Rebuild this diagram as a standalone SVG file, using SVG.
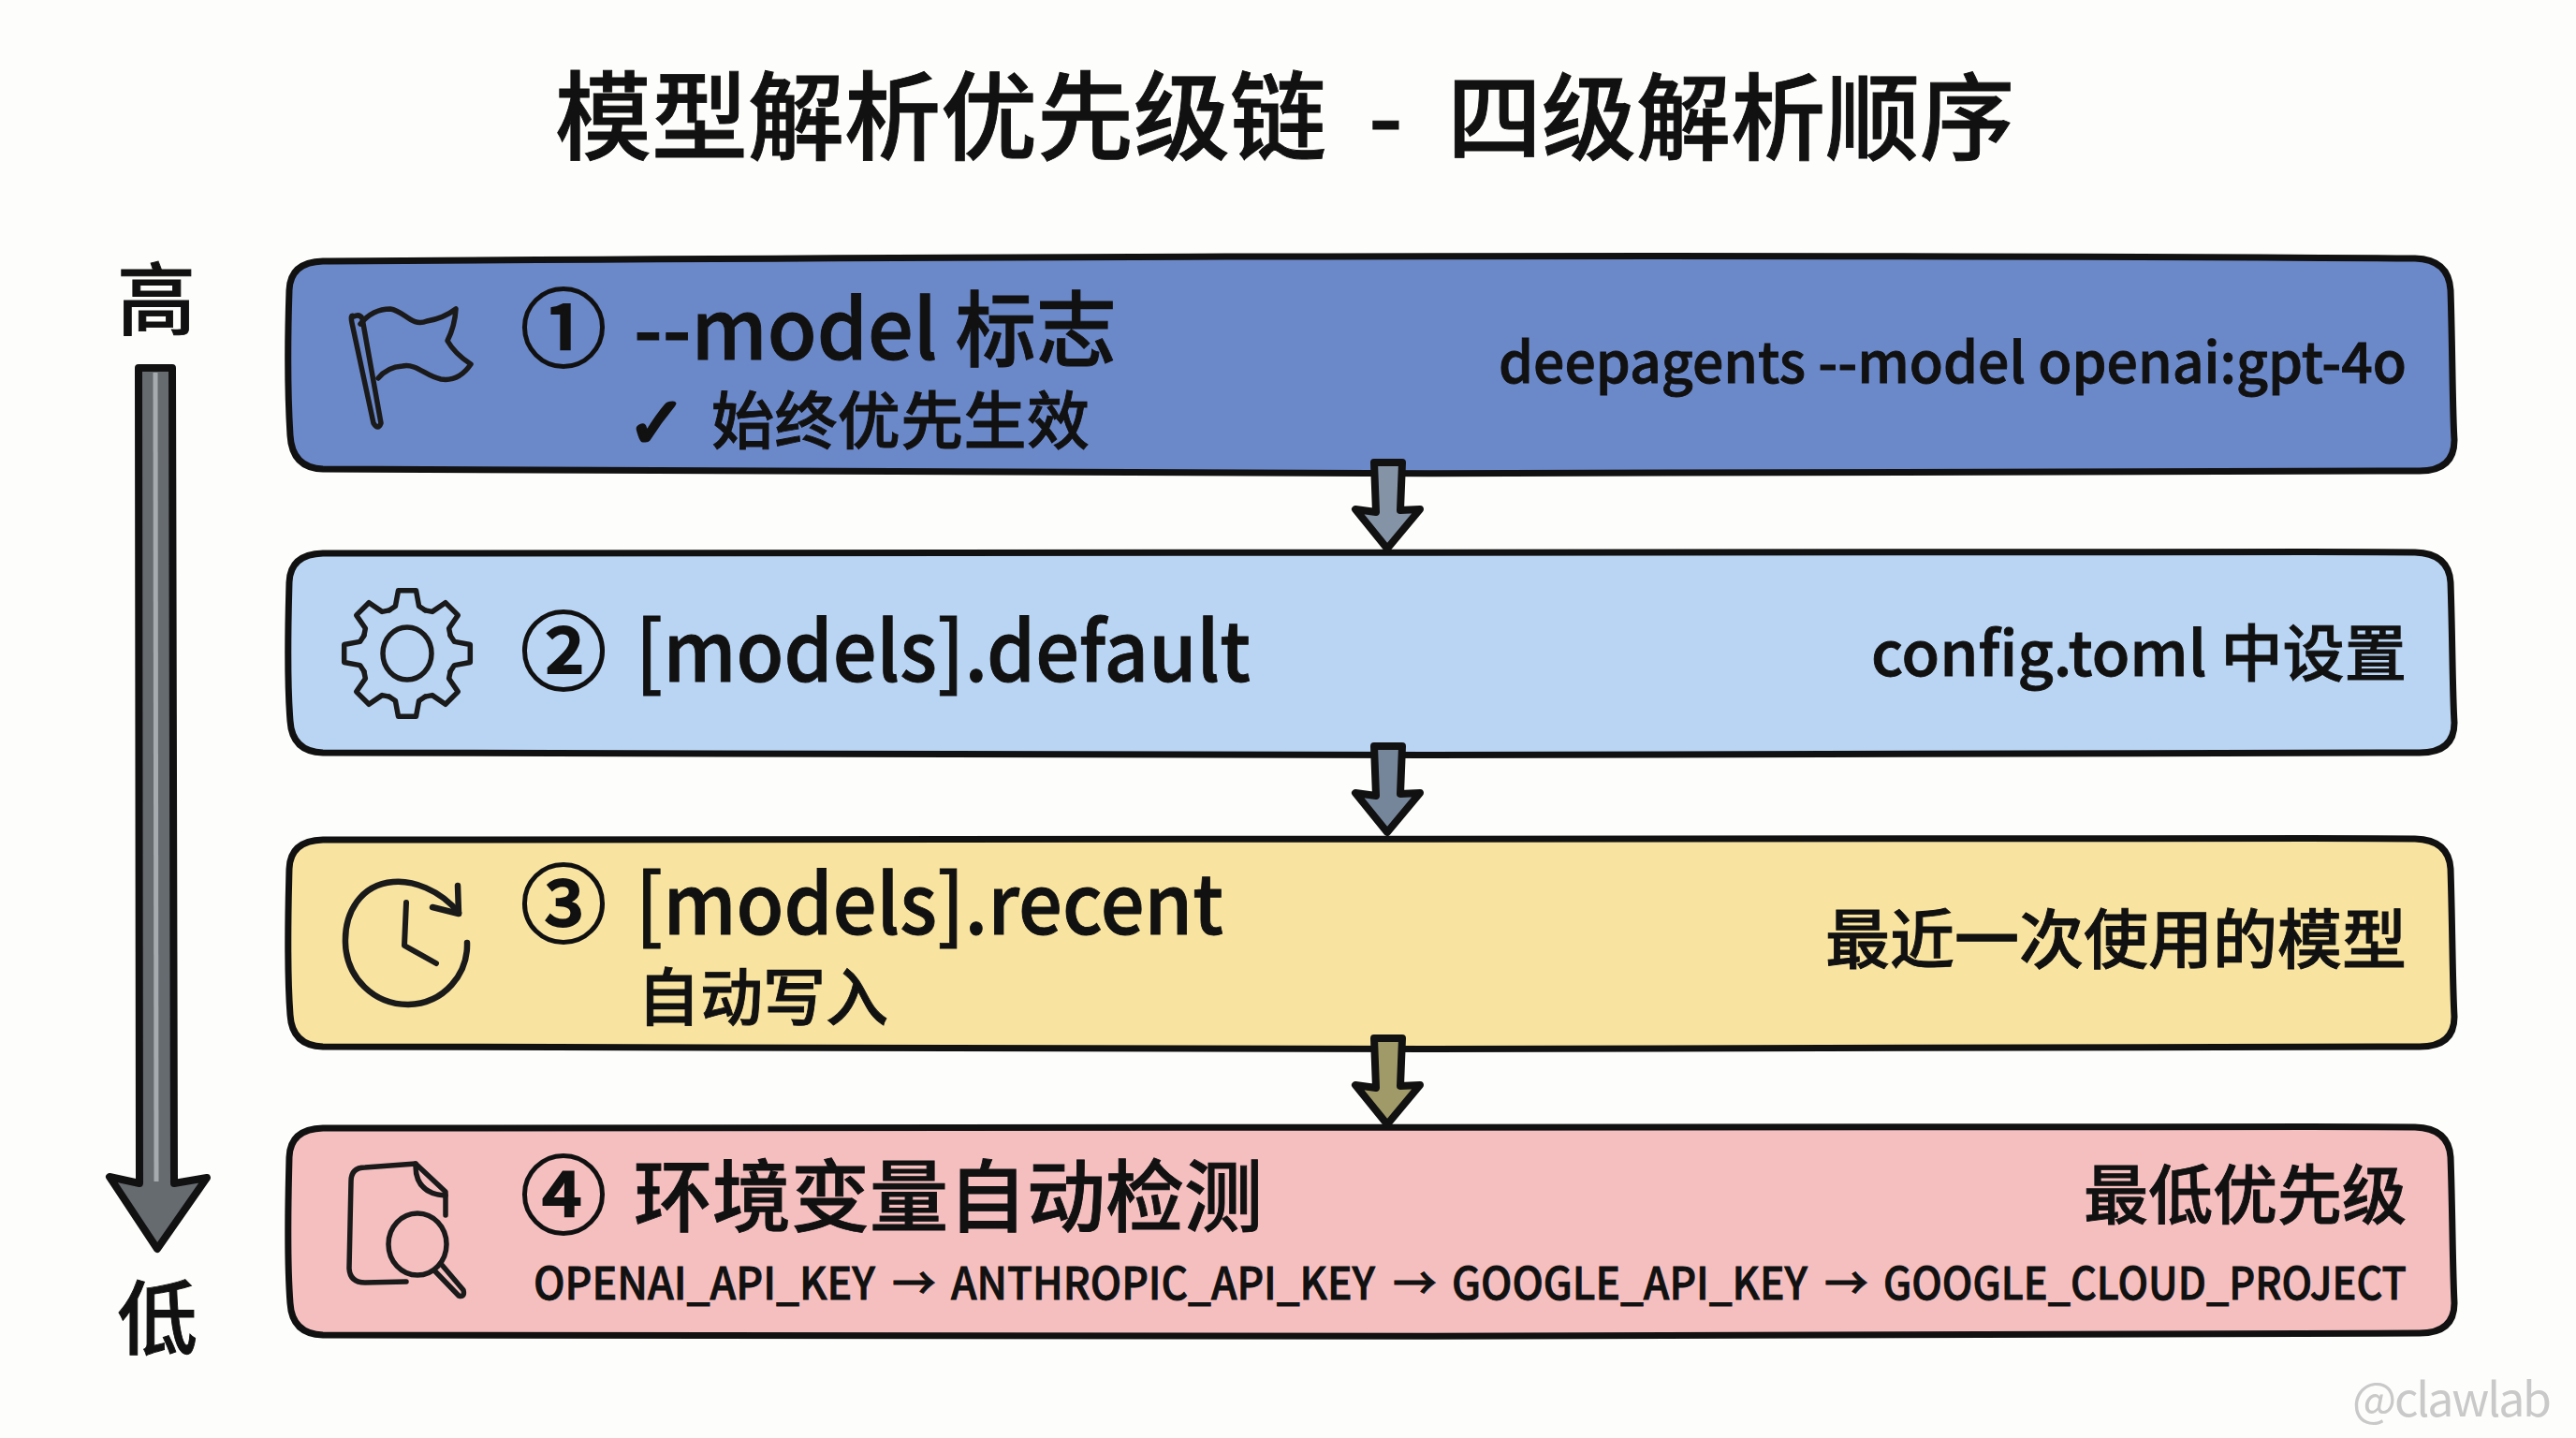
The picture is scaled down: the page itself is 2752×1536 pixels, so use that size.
<svg xmlns="http://www.w3.org/2000/svg" width="2752" height="1536" viewBox="0 0 2752 1536">
<style>
text{font-family:"Noto Sans CJK SC","Noto Sans",sans-serif;font-weight:500;fill:#111;stroke:#111;stroke-width:.9}
.box{stroke:#111;stroke-width:7;stroke-linejoin:round}
.ico{fill:none;stroke:#1a1a1a;stroke-width:5.5;stroke-linecap:round;stroke-linejoin:round}
.arr{stroke:#111;stroke-width:8;stroke-linejoin:round}
.r{text-anchor:end}
.num{stroke-width:2}
</style>
<defs>
<polyline id="tooth" points="-19.1,-46.2 -12.6,-50.5 -9.5,-67.3 9.5,-67.3 12.6,-50.5 19.1,-46.2"/>
</defs>
<rect width="2752" height="1536" fill="#fdfdfb"/>
<text id="title" y="163" font-size="103"><tspan x="593">模型解析优先级链</tspan> <tspan x="1462">-</tspan> <tspan x="1546" font-size="101">四级解析顺序</tspan></text>

<g id="priority-axis">
<text x="167" y="351" font-size="84" text-anchor="middle">高</text>
<path class="arr" d="M148 393 L184 393 L186 1264 L221 1258 L168 1334 L117 1257 L149 1264 Z" fill="#666b70" stroke-width="7"/>
<line x1="166" y1="398" x2="167" y2="1262" stroke="#a5abae" stroke-width="5"/>
<text x="168" y="1440" font-size="86" text-anchor="middle">低</text>
</g>

<g id="node-1">
<path class="box" fill="#6b88c9" d="M345 279 C800 276,1700 270,2580 276 Q2616 277 2618 310 C2620 370,2620 440,2622 470 Q2622 503 2585 503 C1900 506,1000 508,345 501 Q312 500 310 465 C306 400,308 340,309 310 Q310 280 345 279 Z"/>
<g class="ico">
<path d="M378 338 Q374 335 376 345 L399 452 Q404 460 407 452 L387 340 Q384 335 378 338 Z"/>
<path d="M385 346 Q398 330 417 330 C432 332,440 350,456 343 Q474 340 487 330 Q486 348 478 364 Q486 378 503 389 Q490 408 471 405 C455 402,445 388,430 391 Q414 392 404 404"/>
</g>
<text class="num" x="556" y="385" font-size="92">①</text>
<text x="677" y="384" font-size="88" textLength="516" lengthAdjust="spacingAndGlyphs">--model 标志</text>
<text x="670" y="478" font-size="76" style="font-family:'DejaVu Sans',sans-serif;stroke-width:3.5">✓</text>
<text x="760" y="474" font-size="67" textLength="404">始终优先生效</text>
<text class="r" x="2571" y="409" font-size="60" textLength="970" lengthAdjust="spacingAndGlyphs">deepagents --model openai:gpt-4o</text>
</g>

<g id="node-2">
<path class="box" fill="#b9d5f3" d="M345 591 C800 589,1700 586,2580 590 Q2616 591 2618 622 C2620 680,2620 740,2622 772 Q2622 804 2585 804 C1900 807,1000 808,345 804 Q312 803 310 770 C306 720,308 660,309 622 Q310 592 345 591 Z"/>
<g class="ico" transform="translate(435 698)" stroke-width="5">
<use href="#tooth"/><use href="#tooth" transform="rotate(45)"/><use href="#tooth" transform="rotate(90)"/><use href="#tooth" transform="rotate(135)"/><use href="#tooth" transform="rotate(180)"/><use href="#tooth" transform="rotate(225)"/><use href="#tooth" transform="rotate(270)"/><use href="#tooth" transform="rotate(315)"/>
<ellipse cx="0" cy="0" rx="26" ry="28"/>
</g>
<text class="num" x="556" y="730" font-size="92">②</text>
<text x="679" y="728" font-size="88" textLength="657" lengthAdjust="spacingAndGlyphs">[models].default</text>
<text class="r" x="2571" y="722" font-size="66" textLength="572" lengthAdjust="spacingAndGlyphs">config.toml 中设置</text>
</g>

<g id="node-3">
<path class="box" fill="#f8e4a0" d="M345 897 C800 895,1700 892,2580 896 Q2616 897 2618 928 C2620 990,2620 1050,2622 1086 Q2622 1118 2585 1118 C1900 1121,1000 1122,345 1118 Q312 1117 310 1084 C306 1030,308 970,309 928 Q310 898 345 897 Z"/>
<g class="ico">
<path d="M490 975 C470 950,440 940,420 942 C385 945,368 975,369 1007 C370 1045,400 1073,436 1073 C475 1072,500 1040,499 1007" stroke-width="6.5"/>
<path d="M489 946 L490 976 L462 969" stroke-width="6.5"/>
<path d="M434 964 L432 1010 L466 1029" stroke-width="6"/>
</g>
<text class="num" x="556" y="1000" font-size="92">③</text>
<text x="679" y="998" font-size="88" textLength="628" lengthAdjust="spacingAndGlyphs">[models].recent</text>
<text x="681" y="1090" font-size="67">自动写入</text>
<text class="r" x="2571" y="1029" font-size="69">最近一次使用的模型</text>
</g>

<g id="node-4">
<path class="box" fill="#f5bfc0" d="M345 1205 C800 1203,1700 1200,2580 1204 Q2616 1205 2618 1236 C2620 1290,2620 1350,2622 1392 Q2622 1424 2585 1424 C1900 1427,1000 1429,345 1426 Q312 1425 310 1392 C306 1340,308 1280,309 1236 Q310 1206 345 1205 Z"/>
<g class="ico">
<path d="M476 1298 L476 1273 L444 1243 L390 1247 Q375 1247 375 1262 L373 1355 Q374 1370 390 1370 L434 1369"/>
<path d="M444 1243 Q443 1275 476 1277"/>
<ellipse cx="446" cy="1329" rx="31" ry="33"/>
<path d="M464 1357 L490 1384 Q497 1386 495 1378 L472 1351"/>
</g>
<text class="num" x="556" y="1311" font-size="92">④</text>
<text x="677" y="1309" font-size="84">环境变量自动检测</text>
<text class="r" x="2571" y="1302" font-size="69">最低优先级</text>
<text y="1388" font-size="48"><tspan x="570" textLength="365" lengthAdjust="spacingAndGlyphs">OPENAI_API_KEY</tspan> <tspan x="953" textLength="47" lengthAdjust="spacingAndGlyphs">→</tspan> <tspan x="1016" textLength="453" lengthAdjust="spacingAndGlyphs">ANTHROPIC_API_KEY</tspan> <tspan x="1488" textLength="47" lengthAdjust="spacingAndGlyphs">→</tspan> <tspan x="1551" textLength="380" lengthAdjust="spacingAndGlyphs">GOOGLE_API_KEY</tspan> <tspan x="1949" textLength="47" lengthAdjust="spacingAndGlyphs">→</tspan> <tspan x="2012" textLength="559" lengthAdjust="spacingAndGlyphs">GOOGLE_CLOUD_PROJECT</tspan></text>
</g>

<g id="connectors">
<path class="arr" fill="#8493a5" d="M1468 494 L1498 494 L1496 545 L1517 544 L1482 586 L1448 544 L1470 547 Z"/>
<path class="arr" fill="#76869a" d="M1468 797 L1498 797 L1496 848 L1517 847 L1482 889 L1448 847 L1470 850 Z"/>
<path class="arr" fill="#a09a68" d="M1468 1109 L1498 1109 L1496 1160 L1517 1159 L1482 1201 L1448 1159 L1470 1162 Z"/>
</g>

<text id="watermark" x="2513" y="1513" font-size="50" style="fill:#c9c9c9;stroke:none;font-weight:400" textLength="213">@clawlab</text>
</svg>
